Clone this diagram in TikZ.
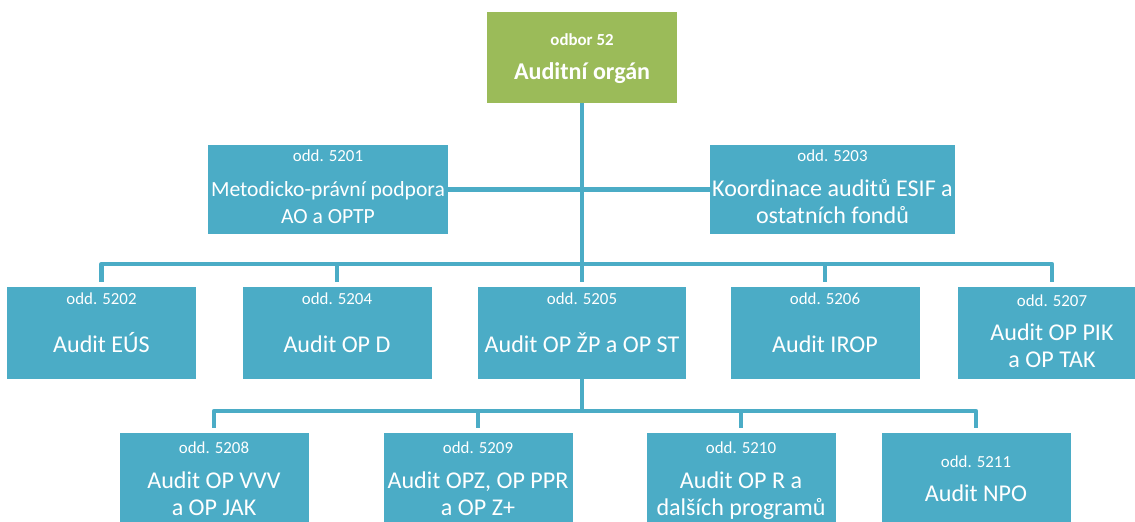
\documentclass[tikz,border=0pt]{standalone}
\usepackage{fontspec}
\setmainfont{Carlito}
\usepackage{tikz}
\usetikzlibrary{positioning, calc}

\definecolor{oddblue}{HTML}{4BACC6}
\definecolor{headgreen}{HTML}{9BBB59}

\newcommand{\oddlabel}[1]{{\fontsize{9.6}{11}\selectfont odd. #1}}

\tikzset{
  unit/.style={rectangle, fill=oddblue, text=white, align=center, inner sep=1pt,
    minimum width=3.78cm, minimum height=1.82cm, font=\fontsize{13.7}{15.5}\selectfont},
  head/.style={unit, fill=headgreen, minimum width=3.8cm,
    font=\bfseries\fontsize{13.7}{15.5}\selectfont},
  link/.style={draw=oddblue, line width=2.6pt, line join=round}
}

\begin{document}
\begin{tikzpicture}
\clip (0,0) rectangle (22.7,10.42);

% Head of the department
\node[head, text depth=1.2pt] (top) at (11.64,9.27)
  {{\fontsize{9.6}{11}\selectfont odbor 52}\\[4.2pt]Auditní orgán};

% Staff units
\node[unit, minimum width=4.8cm, minimum height=1.78cm, text depth=2.8pt,
  font=\fontsize{12.3}{15.5}\selectfont] (o5201) at (6.56,6.63)
  {\oddlabel{5201}\\[4.3pt]Metodicko-právní podpora\\AO a OPTP};
\node[unit, minimum width=4.9cm, minimum height=1.78cm, text depth=2.8pt] (o5203) at (16.65,6.63)
  {\oddlabel{5203}\\[4.3pt]Koordinace auditů ESIF a\\ostatních fondů};

% Second row
\node[unit, text depth=11.8pt] (o5202) at (2.03,3.76) {\oddlabel{5202}\\[12pt]Audit EÚS};
\node[unit, text depth=11.8pt] (o5204) at (6.74,3.76) {\oddlabel{5204}\\[12pt]Audit OP D};
\node[unit, minimum width=4.16cm, text depth=11.8pt] (o5205) at (11.64,3.76)
  {\oddlabel{5205}\\[12pt]Audit OP ŽP a OP ST};
\node[unit, text depth=11.8pt] (o5206) at (16.5,3.76) {\oddlabel{5206}\\[12pt]Audit IROP};
\node[unit, text depth=2pt] (o5207) at (21.04,3.76)
  {\oddlabel{5207}\\[3.7pt]Audit OP PIK\\a OP TAK};

% Third row
\node[unit, text depth=0pt] (o5208) at (4.28,0.85) {\oddlabel{5208}\\[4.2pt]Audit OP VVV\\a OP JAK};
\node[unit, text depth=0pt] (o5209) at (9.56,0.85) {\oddlabel{5209}\\[4.2pt]Audit OPZ, OP PPR\\a OP Z+};
\node[unit, text depth=0pt] (o5210) at (14.82,0.85) {\oddlabel{5210}\\[4.2pt]Audit OP R a\\dalších programů};
\node[unit, text depth=0pt] (o5211) at (19.52,0.85) {\oddlabel{5211}\\[4.2pt]Audit NPO};

% Connections
\coordinate (bus2) at (11.64,5.14);
\coordinate (bus3) at (11.64,2.2);
\draw[link] (top) -- ([yshift=1mm]o5205.north);
\draw[link] (o5201) -- (o5203);
\foreach \n in {5202,5204,5206,5207}
  \draw[link] (bus2) -| ([yshift=1mm]o\n.north);
\draw[link] (o5205) -- (bus3);
\foreach \n in {5208,5209,5210,5211}
  \draw[link] (bus3) -| ([yshift=1mm]o\n.north);
\end{tikzpicture}
\end{document}
